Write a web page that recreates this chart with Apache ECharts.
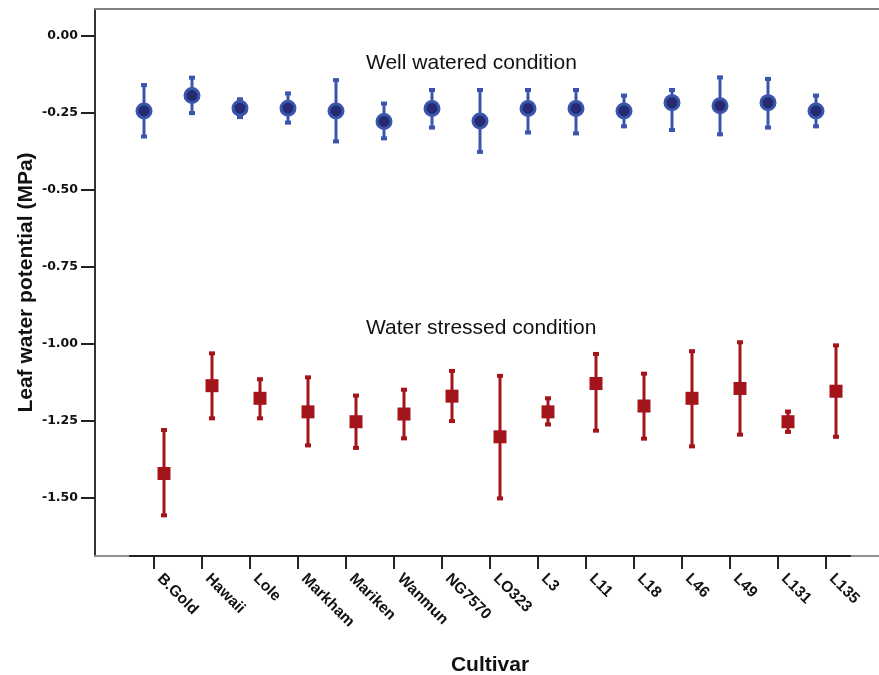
<!DOCTYPE html>
<html lang="en">
<head>
    <meta charset="UTF-8">
    <title>Leaf water potential</title>
    <script src="https://cdn.jsdelivr.net/npm/echarts@6/dist/echarts.min.js"></script>
    <style>
        html, body { margin: 0; padding: 0; background: #fff; }
    </style>
</head>
<body>
<div id="main" style="width: 879px; height: 675px"></div>
</body>
<script>
    let categories = ['B.Gold','Hawaii','Lole','Markham','Mariken','Wanmun','NG7570','LO323','L3','L11','L18','L46','L49','L131','L135'];
    // well watered: mean and error bar ends
    let wellMean = [-0.243,-0.193,-0.234,-0.234,-0.243,-0.277,-0.235,-0.276,-0.235,-0.235,-0.243,-0.216,-0.226,-0.216,-0.243];
    let wellLow  = [-0.326,-0.250,-0.263,-0.281,-0.342,-0.332,-0.297,-0.376,-0.313,-0.316,-0.293,-0.305,-0.319,-0.297,-0.293];
    let wellHigh = [-0.159,-0.135,-0.205,-0.186,-0.143,-0.219,-0.175,-0.175,-0.175,-0.175,-0.193,-0.175,-0.134,-0.139,-0.193];
    // water stressed
    let stressMean = [-1.420,-1.135,-1.176,-1.220,-1.252,-1.227,-1.169,-1.301,-1.220,-1.128,-1.201,-1.176,-1.144,-1.252,-1.153];
    let stressLow  = [-1.556,-1.241,-1.241,-1.329,-1.337,-1.306,-1.250,-1.501,-1.261,-1.281,-1.307,-1.332,-1.294,-1.285,-1.301];
    let stressHigh = [-1.279,-1.030,-1.114,-1.108,-1.167,-1.148,-1.087,-1.103,-1.176,-1.032,-1.096,-1.023,-0.994,-1.219,-1.004];
    let yTicks = [0, -0.25, -0.5, -0.75, -1.0, -1.25, -1.5];

    let blue = '#3a55ae';
    let navy = '#262a6e';
    let red = '#a3141b';
    let sans = 'Liberation Sans, Arial, sans-serif';

    function errData(low, high) {
        return categories.map(function (c, i) { return [i, low[i], high[i]]; });
    }
    function meanData(mean) {
        return categories.map(function (c, i) { return [i, mean[i]]; });
    }

    // error bar with small caps, shifted sideways in pixels
    function makeErrRender(color, dx) {
        return function (params, api) {
            let lo = api.coord([api.value(0), api.value(1)]);
            let hi = api.coord([api.value(0), api.value(2)]);
            let x = lo[0] + dx;
            return {
                type: 'group',
                children: [
                    {type: 'line', shape: {x1: x, y1: lo[1], x2: x, y2: hi[1]}, style: {stroke: color, lineWidth: 3}},
                    {type: 'rect', shape: {x: x - 3, y: lo[1] - 2, width: 6, height: 4}, style: {fill: color}},
                    {type: 'rect', shape: {x: x - 3, y: hi[1] - 2, width: 6, height: 4}, style: {fill: color}}
                ]
            };
        };
    }

    let myChart = echarts.init(document.getElementById('main'));
    let option = {
        animation: false,
        textStyle: {fontFamily: sans},
        grid: [
            {left: 130, right: 29, top: 9, bottom: 119, outerBoundsMode: 'none'},
            {left: 95, right: 0, top: 9, bottom: 119, outerBoundsMode: 'none'}
        ],
        xAxis: [
            {
                type: 'category',
                data: categories,
                gridIndex: 0,
                z: 5,
                axisLine: {onZero: false, lineStyle: {color: '#222', width: 2}},
                axisTick: {show: true, alignWithLabel: true, inside: false, length: 13, lineStyle: {color: '#222', width: 2}},
                axisLabel: {
                    rotate: -45, margin: 26, interval: 0, verticalAlign: 'bottom',
                    color: '#111', fontWeight: 'bold', fontSize: 15.5
                },
                name: 'Cultivar',
                nameLocation: 'middle',
                nameGap: 99,
                nameMoveOverlap: false,
                nameTextStyle: {color: '#111', fontWeight: 'bold', fontSize: 21}
            },
            {
                type: 'value', gridIndex: 1, position: 'top',
                axisLine: {show: true, onZero: false, lineStyle: {color: '#808080', width: 2}},
                axisTick: {show: false}, axisLabel: {show: false}, splitLine: {show: false}
            },
            {
                type: 'value', gridIndex: 1, position: 'bottom',
                axisLine: {show: true, onZero: false, lineStyle: {color: '#909090', width: 2}},
                axisTick: {show: false}, axisLabel: {show: false}, splitLine: {show: false}
            }
        ],
        yAxis: [
            {
                type: 'value',
                gridIndex: 0,
                min: -1.688,
                max: 0.088,
                offset: 35,
                axisLine: {show: true, onZero: false, lineStyle: {color: '#333', width: 2}},
                axisTick: {show: true, length: 14, customValues: yTicks, lineStyle: {color: '#222', width: 2}},
                axisLabel: {
                    customValues: yTicks,
                    margin: 17,
                    color: '#111', fontWeight: 'bold', fontSize: 12.5,
                    fontFamily: 'DejaVu Sans, sans-serif',
                    formatter: function (v) { return v.toFixed(2); }
                },
                splitLine: {show: false},
                name: 'Leaf water potential (MPa)',
                nameLocation: 'middle',
                nameGap: 58,
                nameMoveOverlap: false,
                nameTextStyle: {color: '#111', fontWeight: 'bold', fontSize: 21}
            },
            {type: 'value', gridIndex: 1, show: false}
        ],
        graphic: [
            {type: 'text', left: 366, top: 53, style: {text: 'Well watered condition', fontSize: 21, fill: '#111', fontFamily: sans}},
            {type: 'text', left: 366, top: 318, style: {text: 'Water stressed condition', fontSize: 21, fill: '#111', fontFamily: sans}}
        ],
        series: [
            {
                type: 'custom', name: 'well-err', xAxisIndex: 0, yAxisIndex: 0,
                renderItem: makeErrRender(blue, -10),
                encode: {x: 0, y: [1, 2]},
                data: errData(wellLow, wellHigh), z: 2
            },
            {
                type: 'custom', name: 'stress-err', xAxisIndex: 0, yAxisIndex: 0,
                renderItem: makeErrRender(red, 10),
                encode: {x: 0, y: [1, 2]},
                data: errData(stressLow, stressHigh), z: 2
            },
            {
                type: 'scatter', name: 'Well watered', xAxisIndex: 0, yAxisIndex: 0,
                symbol: 'circle', symbolSize: 14, symbolOffset: [-10, 0],
                itemStyle: {color: navy, borderColor: blue, borderWidth: 3, opacity: 1},
                data: meanData(wellMean), z: 3
            },
            {
                type: 'scatter', name: 'Water stressed', xAxisIndex: 0, yAxisIndex: 0,
                symbol: 'rect', symbolSize: 13, symbolOffset: [10, 0],
                itemStyle: {color: red, opacity: 1},
                data: meanData(stressMean), z: 3
            }
        ]
    };
    myChart.setOption(option);
</script>
</html>
